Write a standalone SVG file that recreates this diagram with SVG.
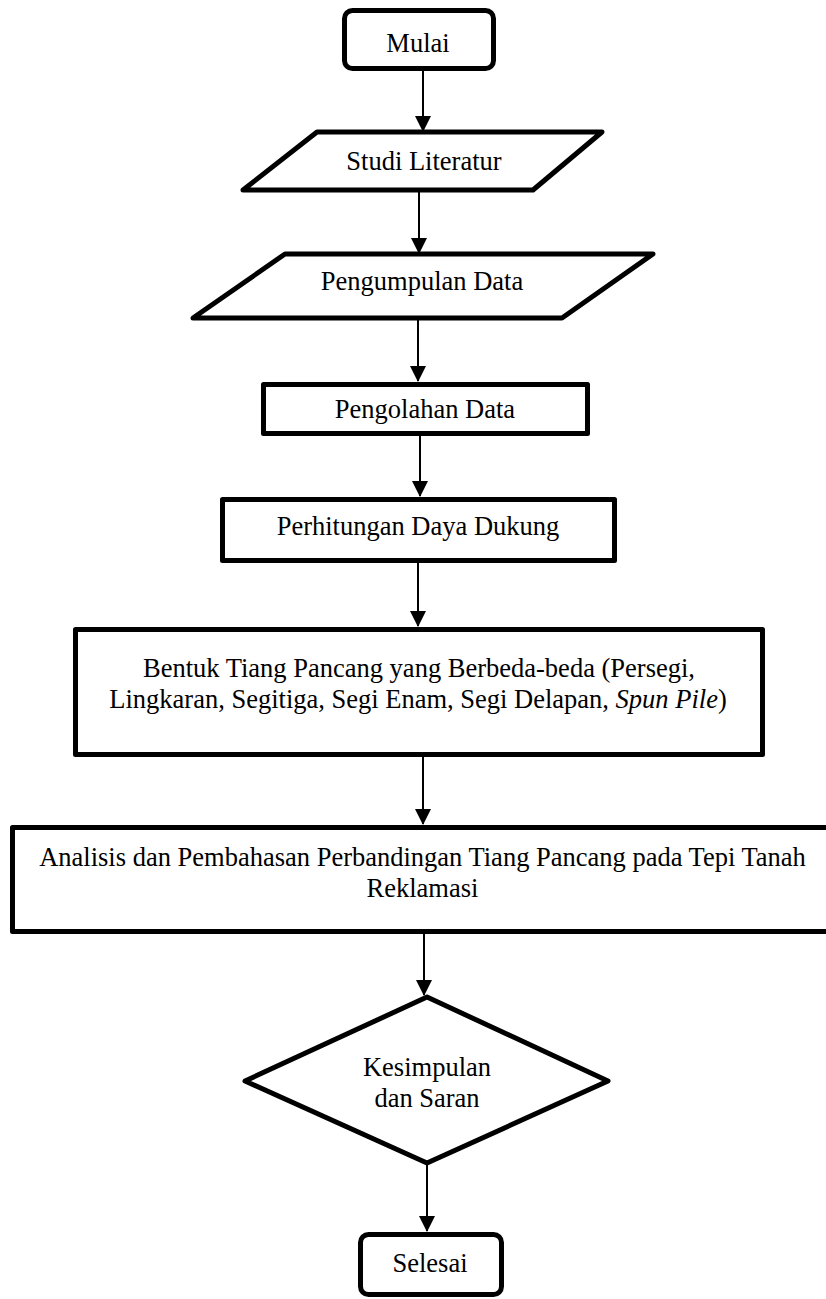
<svg xmlns="http://www.w3.org/2000/svg" width="826" height="1299" viewBox="0 0 826 1299">
<defs>
<marker id="ah" markerUnits="userSpaceOnUse" markerWidth="16" markerHeight="16" viewBox="0 0 16 16" refX="15" refY="8" orient="auto">
<path d="M0,0 L16,8 L0,16 Z" fill="#000"/>
</marker>
<style>
.n{fill:#fff;stroke:#000;stroke-width:5;stroke-linejoin:round}
.t{font-family:"Liberation Serif","Times New Roman",serif;font-size:26.5px;fill:#000;text-anchor:middle}
.c line{stroke:#000;stroke-width:2;marker-end:url(#ah)}
</style>
</defs>
<rect width="826" height="1299" fill="#fff"/>
<g class="c" id="connectors">
<line x1="423" y1="71" x2="423" y2="131"/>
<line x1="419" y1="190" x2="419" y2="253"/>
<line x1="418" y1="318" x2="418" y2="381"/>
<line x1="420" y1="436" x2="420" y2="496"/>
<line x1="418" y1="563" x2="418" y2="626"/>
<line x1="423" y1="757" x2="423" y2="824"/>
<line x1="424" y1="934" x2="424" y2="995"/>
<line x1="427" y1="1165" x2="427" y2="1231"/>
</g>
<g id="mulai">
<rect class="n" x="344.5" y="10.5" width="149" height="58" rx="8"/>
<text class="t" x="418" y="52">Mulai</text>
</g>
<g id="studi">
<polygon class="n" points="317,132 602,132 533,190 243,190"/>
<text class="t" x="424" y="170">Studi Literatur</text>
</g>
<g id="pengumpulan">
<polygon class="n" points="285,254 653,254 562,318 193,318"/>
<text class="t" x="422" y="290">Pengumpulan Data</text>
</g>
<g id="pengolahan">
<rect class="n" x="263.5" y="384.5" width="324" height="49"/>
<text class="t" x="425" y="418">Pengolahan Data</text>
</g>
<g id="perhitungan">
<rect class="n" x="222.5" y="499.5" width="392" height="61"/>
<text class="t" x="418" y="535">Perhitungan Daya Dukung</text>
</g>
<g id="bentuk">
<rect class="n" x="75.5" y="629.5" width="687" height="125"/>
<text class="t" x="419" y="677">Bentuk Tiang Pancang yang Berbeda-beda (Persegi,</text>
<text class="t" x="418" y="708">Lingkaran, Segitiga, Segi Enam, Segi Delapan, <tspan font-style="italic">Spun Pile</tspan>)</text>
</g>
<g id="analisis">
<rect class="n" x="12.5" y="827.5" width="830" height="104"/>
<text class="t" x="422.5" y="866">Analisis dan Pembahasan Perbandingan Tiang Pancang pada Tepi Tanah</text>
<text class="t" x="422.5" y="897">Reklamasi</text>
</g>
<g id="kesimpulan">
<polygon class="n" points="427,997 608,1081 427,1163 245,1081"/>
<text class="t" x="427" y="1076">Kesimpulan</text>
<text class="t" x="427" y="1107">dan Saran</text>
</g>
<g id="selesai">
<rect class="n" x="360.5" y="1234.5" width="141" height="60" rx="8"/>
<text class="t" x="430" y="1272">Selesai</text>
</g>
</svg>
